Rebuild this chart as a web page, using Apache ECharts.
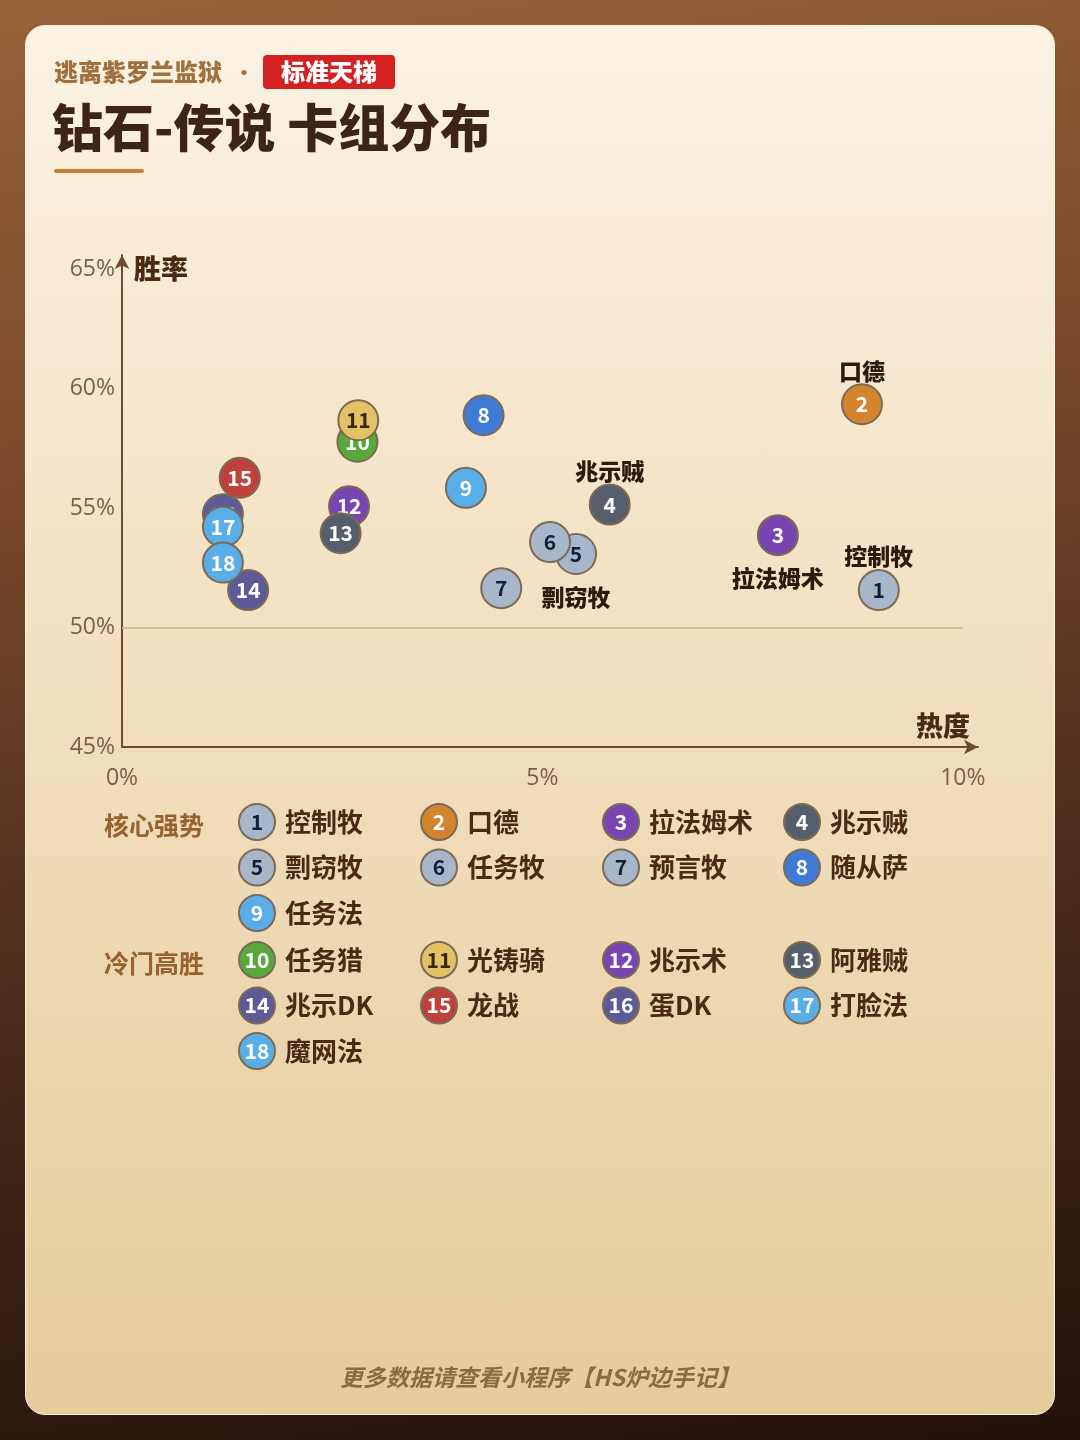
<!DOCTYPE html>
<html><head><meta charset="utf-8">
<script src="https://cdn.jsdelivr.net/npm/echarts@6/dist/echarts.min.js"></script>
<style>
html,body{margin:0;padding:0;width:1080px;height:1440px;overflow:hidden;}
body{background:linear-gradient(172deg,#98623a 0%,#7a4a2c 30%,#4a2a1a 65%,#22110b 100%);position:relative;font-family:"Noto Sans CJK SC","Noto Sans",sans-serif;}
#card{position:absolute;left:25px;top:25px;width:1028px;height:1388px;border-radius:20px;border:1.5px solid #fff3dc;background:linear-gradient(180deg,#fbf2e2 0%,#f3e2c4 40%,#e6cb9c 100%);}
#chart{position:absolute;left:0;top:0;width:1080px;height:1440px;}
</style></head>
<body>
<div id="card"></div>
<div id="chart"></div>
<script>
// ---- data ----
const deckIds = [1,2,3,4,5,6,7,8,9,10,11,12,13,14,15,16,17,18];
const deckNames = ['控制牧','口德','拉法姆术','兆示贼','剽窃牧','任务牧','预言牧','随从萨','任务法','任务猎','光铸骑','兆示术','阿雅贼','兆示DK','龙战','蛋DK','打脸法','魔网法'];
const popularity = [9.00,8.80,7.80,5.80,5.40,5.09,4.51,4.30,4.09,2.80,2.81,2.70,2.60,1.50,1.40,1.20,1.20,1.20];
const winRate = [51.57,59.35,53.87,55.15,53.08,53.58,51.65,58.89,55.85,57.78,58.68,55.08,53.95,51.57,56.27,54.75,54.22,52.72];
const tierNames = ['核心强势','冷门高胜'];
const deckTier = [0,0,0,0,0,0,0,0,0,1,1,1,1,1,1,1,1,1];
const annotatedDecks = [1,2,3,4,5];
const xTicks = [0,5,10];
const yTicks = [45,50,55,60,65];
const titleSup = '逃离紫罗兰监狱';
const badgeText = '标准天梯';
const titleMain = '钻石-传说 卡组分布';
const footerText = '更多数据请查看小程序【HS炉边手记】';

// ---- style ----
const fills = ['#a8b6ca','#d4832f','#7a45b0','#565e6b','#a8b6ca','#a8b6ca','#a8b6ca','#3f7bd6','#5aaee8','#58a83c','#e2c264','#7a45b0','#565e6b','#5d5a98','#c0403b','#5d5a98','#5aaee8','#5aaee8'];
const numColor = id => ([1,5,6,7].includes(id) ? '#14203a' : (id===11 ? '#3a2410' : '#ffffff'));
const annPos = {1:['top',2],2:['top',2],3:['bottom',12],4:['top',2],5:['bottom',12]};
const FONT = '"Noto Sans CJK SC","Noto Sans",sans-serif';

const chart = echarts.init(document.getElementById('chart'), null, {renderer:'canvas'});

// one series per deck so later decks (with their labels) sit above earlier ones
const deckSeries = deckIds.map((id,i)=>({
  type:'scatter', symbol:'circle', symbolSize:40, z:3+i,
  data:[{name:deckNames[i], value:[popularity[i], winRate[i]]}],
  itemStyle:{color:fills[i], borderColor:'#7d6a55', borderWidth:2, opacity:1},
  label:{show:true, position:'inside', formatter:String(id), fontFamily:FONT, fontWeight:'bold', fontSize:21, color:numColor(id)}
}));
deckSeries[0].markLine = {silent:true, symbol:'none', label:{show:false}, lineStyle:{color:'#c9b08a', width:1.5, type:'solid'},
  data:[[{coord:[0,50]},{coord:[10,50]}]]};

const annData = annotatedDecks.map(id=>{
  const i = id-1;
  return {name:deckNames[i], value:[popularity[i],winRate[i]],
    label:{position:annPos[id][0], distance:annPos[id][1]}};
});

// legend graphics built from arrays
const graphics = [];
const colX = [257,439,621,802];
const groupY = [822,960];
const rowStep = 45.5;
tierNames.forEach((t,g)=>{
  graphics.push({type:'text', x:104, y:groupY[g]+3, style:{text:t, font:'bold 25px '+FONT, fill:'#96622f', verticalAlign:'middle'}});
});
deckIds.forEach((id,i)=>{
  const g = deckTier[i];
  const k = deckIds.filter((d,j)=>deckTier[j]===g).indexOf(id);
  const cx = colX[k%4], cy = groupY[g] + Math.floor(k/4)*rowStep;
  graphics.push({type:'circle', shape:{cx:cx, cy:cy, r:18}, style:{fill:fills[i], stroke:'#7d6a55', lineWidth:2}});
  graphics.push({type:'text', x:cx, y:cy, style:{text:String(id), font:'bold 21px '+FONT, fill:numColor(id), align:'center', verticalAlign:'middle'}});
  graphics.push({type:'text', x:cx+28, y:cy, style:{text:deckNames[i], font:'bold 26px '+FONT, fill:'#4a2a12', align:'left', verticalAlign:'middle'}});
});
// header
graphics.push({type:'text', x:54, y:72, style:{text:titleSup, font:'900 24px '+FONT, fill:'#a0703e', verticalAlign:'middle'}});
graphics.push({type:'text', x:244, y:72, style:{text:'•', font:'bold 20px '+FONT, fill:'#a0703e', align:'center', verticalAlign:'middle'}});
graphics.push({type:'rect', shape:{x:263, y:55, width:132, height:34, r:4}, style:{fill:'#d42222'}});
graphics.push({type:'text', x:329, y:72, style:{text:badgeText, font:'900 24px '+FONT, fill:'#ffffff', align:'center', verticalAlign:'middle'}});
graphics.push({type:'text', x:52, y:128, style:{text:titleMain, font:'900 51px '+FONT, fill:'#3e2414', verticalAlign:'middle'}});
graphics.push({type:'rect', shape:{x:54, y:169, width:90, height:4, r:2}, style:{fill:'#c8813c'}});
graphics.push({type:'text', x:540, y:1377, style:{text:footerText, font:'italic bold 23px '+FONT, fill:'#8c6a44', align:'center', verticalAlign:'middle'}});

const option = {
  backgroundColor:'transparent',
  animation:false,
  grid:{left:122, right:102, top:255, bottom:693},
  xAxis:{type:'value', min:0, max:10.18, interval:5,
    name:'热度', nameLocation:'end', nameGap:-62,
    nameTextStyle:{fontFamily:FONT, fontWeight:900, fontSize:27, color:'#4a2a12', align:'left', verticalAlign:'bottom', padding:[0,0,8,0]},
    axisLine:{show:true, symbol:['none','arrow'], symbolSize:[11,14], lineStyle:{color:'#6e4b2e', width:2}},
    axisTick:{show:false}, splitLine:{show:false},
    axisLabel:{showMaxLabel:false, margin:20, fontFamily:'"Open Sans","Noto Sans",sans-serif', fontSize:23, color:'#7a6048', formatter:v=> xTicks.includes(v) ? v+'%' : ''}
  },
  yAxis:{type:'value', min:45, max:65.6, interval:5,
    name:'胜率', nameLocation:'end', nameGap:-14,
    nameTextStyle:{fontFamily:FONT, fontWeight:900, fontSize:27, color:'#4a2a12', align:'left', verticalAlign:'middle', padding:[0,0,0,12]},
    axisLine:{show:true, symbol:['none','arrow'], symbolSize:[11,14], lineStyle:{color:'#6e4b2e', width:2}},
    axisTick:{show:false}, splitLine:{show:false},
    axisLabel:{showMaxLabel:false, margin:7, fontFamily:'"Open Sans","Noto Sans",sans-serif', fontSize:23, color:'#7a6048', formatter:v=> yTicks.includes(v) ? v+'%' : ''}
  },
  series: deckSeries.concat([
    {type:'scatter', symbol:'circle', symbolSize:40, data:annData, silent:true, z:40,
      itemStyle:{color:'#000000', opacity:0, borderWidth:0},
      label:{show:true, opacity:1, formatter:p=>p.name, fontFamily:FONT, fontWeight:900, fontSize:23, color:'#2e1a0c', textBorderWidth:0}
    }
  ]),
  graphic:graphics
};
chart.setOption(option);
</script>
</body></html>
